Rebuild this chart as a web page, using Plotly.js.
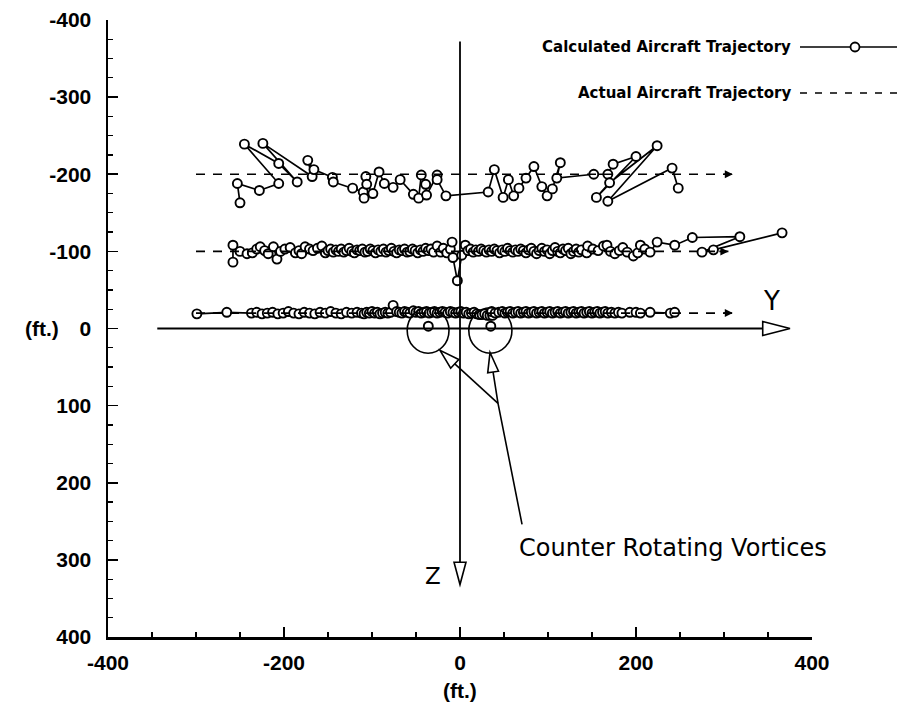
<!DOCTYPE html>
<html>
<head>
<meta charset="utf-8">
<script src="https://cdn.plot.ly/plotly-3.0.1.min.js"></script>
<style>html,body{margin:0;padding:0;background:#fff}#chart{width:904px;height:706px}</style>
</head>
<body>
<div id="chart"></div>
<script>
// ---- Data: [Y (ft), Z (ft)] ----
// Upper calculated trajectory (~ -200 ft)
const calcHigh = [[-250,-163],[-253,-188],[-228,-179],[-206,-188],[-245,-239],[-206,-214],[-185,-190],[-224,-240],[-168,-197],[-173,-218],[-166,-206],[-145,-196],[-144,-190],[-122,-182],[-110,-177],[-109,-169],[-107,-197],[-106,-187],[-99,-175],[-92,-203],[-86,-188],[-76,-183],[-68,-193],[-53,-174],[-47,-169],[-44,-199],[-39,-187],[-38,-173],[-26,-199],[-26,-193],[-16,-172],[32,-177],[39,-206],[49,-170],[55,-193],[61,-172],[67,-182],[75,-195],[84,-210],[93,-184],[99,-172],[105,-181],[114,-215],[110,-195],[152,-200],[168,-200],[174,-213],[200,-223],[155,-170],[170,-189],[224,-237],[168,-165],[241,-208],[248,-182]];

// Middle calculated trajectory (~ -100 ft)
const calcMid = [[-258,-86],[-258,-108],[-250,-100],[-242,-97],[-236,-98],[-231,-103],[-227,-106],[-222,-101],[-218,-97],[-212,-106],[-208,-90],[-204,-100],[-199,-103],[-193,-105],[-187,-98],[-183,-101],[-180,-97],[-176,-106],[-171,-103],[-167,-101],[-162,-104],[-157,-107],[-153,-98],
[-150,-101],[-147,-103],[-144,-99],[-141,-102],[-138,-100],[-135,-103],[-132,-99],[-129,-101],[-126,-104],[-123,-100],[-120,-98],[-117,-102],[-114,-101],[-111,-103],[-108,-99],[-105,-100],[-102,-103],[-99,-101],[-96,-98],[-93,-102],[-90,-100],[-87,-103],[-84,-99],[-81,-101],[-78,-104],[-75,-100],[-72,-98],[-69,-102],[-66,-101],[-63,-103],[-60,-99],[-57,-100],[-54,-103],[-51,-101],[-48,-98],[-45,-102],[-42,-100],[-39,-104],[-36,-101],[-33,-103],[-30,-99],[-26,-107],[-22,-99],[-19,-104],[-15,-98],[-11,-103],[-9,-112],[-8,-92],[-3,-62],[2,-95],[6,-108],
[9,-101],[12,-103],[15,-99],[18,-102],[21,-100],[24,-103],[27,-101],[30,-99],[33,-102],[36,-100],[39,-103],[42,-101],[45,-98],[48,-102],[51,-100],[54,-104],[57,-101],[60,-99],[63,-102],[66,-100],[69,-103],[72,-101],[75,-98],[78,-102],[81,-104],[84,-100],[87,-97],[90,-101],[93,-104],[96,-100],[99,-102],[102,-97],[105,-101],[108,-105],[111,-100],[114,-98],[117,-103],[120,-101],[123,-104],[126,-97],[129,-100],[132,-103],[135,-99],[138,-102],
[144,-98],[145,-107],[151,-103],[157,-101],[163,-107],[167,-108],[171,-100],[176,-97],[181,-101],[185,-105],[190,-99],[197,-94],[202,-98],[205,-108],[210,-103],[216,-99],[224,-112],[244,-108],[264,-118],[318,-119],[275,-99],[288,-102],[366,-124]];

// Lower calculated trajectory (~ -20 ft)
const calcLow = [[-299,-19],[-265,-21],[-237,-20],[-231,-21],[-225,-19],[-219,-20],[-213,-21],[-207,-19],[-201,-20],[-195,-22],[-189,-20],[-183,-19],[-177,-21],[-171,-20],[-165,-19],[-159,-21],[-153,-20],[-147,-22],[-141,-20],[-135,-19],[-129,-21],[-123,-20],[-117,-21],[-112,-20],[-109,-19],[-106,-21],[-103,-20],[-100,-22],[-97,-20],[-94,-21],[-91,-19],[-88,-20],[-85,-21],[-82,-20],[-79,-21],[-76,-30],[-72,-22],[-69,-21],[-66,-20],[-63,-22],[-60,-21],[-57,-20],[-53,-23],[-50,-21],[-47,-22],[-44,-20],[-41,-21],[-38,-22],[-35,-20],[-32,-21],[-29,-22],[-26,-20],[-23,-21],[-20,-22],[-17,-21],[-14,-20],[-11,-22],[-8,-21],[-5,-20],[-2,-21],[1,-22],[4,-20],[7,-21],[10,-19],[13,-20],[16,-21],[19,-19],[22,-18],[25,-18],[28,-19],[31,-17],[34,-17],[37,-17],[36,-22],[40,-20],[44,-21],[48,-22],[51,-20],[54,-21],[57,-22],[60,-20],[63,-21],[66,-22],[69,-20],[72,-21],[75,-22],[78,-20],[81,-21],[84,-22],[87,-20],[90,-21],[93,-22],[96,-20],[99,-21],[102,-22],[105,-20],[108,-21],[111,-22],[114,-20],[117,-21],[120,-22],[123,-20],[126,-21],[129,-22],[132,-20],[135,-21],[138,-22],[141,-20],[144,-21],[147,-22],[150,-20],[153,-21],[156,-22],[159,-20],[162,-21],[165,-22],[168,-20],[172,-21],[176,-20],[180,-21],[184,-20],[193,-21],[200,-21],[205,-20],[216,-21],[239,-20],[244,-21]];

// Actual (straight) trajectories
const actualStartY = -300;
const actualEndY = [310, 305, 310];
const actualZ = [-200, -100, -20];

// Vortex cores
const vortexY = [-36, 35];
const vortexZ = [-3, -3];

// Axis ticks
const xTicks = [-400, -200, 0, 200, 400];
const yTicks = [-400, -300, -200, -100, 0, 100, 200, 300, 400];

// ---- Helpers for paper coords (layout positions) ----
const L = 108, R = 812, T = 20, B = 637;
const PX = p => (p - L) / (R - L);
const PY = p => (B - p) / (B - T);

const FONT = 'Liberation Sans, Arial, Helvetica, sans-serif';
const WIDE = 'DejaVu Sans, Liberation Sans, sans-serif';
const markerStyle = {symbol: 'circle', size: 9, color: '#ffffff', line: {color: '#000', width: 1.9}};
const lineStyle = {color: '#000', width: 1.7};

const traces = [];
[calcHigh, calcMid, calcLow].forEach(pts => {
  traces.push({x: pts.map(p => p[0]), y: pts.map(p => p[1]), type: 'scatter', mode: 'lines+markers',
    line: lineStyle, marker: markerStyle, showlegend: false, hoverinfo: 'skip'});
});
actualZ.forEach((z, i) => {
  traces.push({x: [actualStartY, actualEndY[i]], y: [z, z], type: 'scatter', mode: 'lines',
    line: {color: '#000', width: 1.6, dash: '9px,8px'}, showlegend: false, hoverinfo: 'skip'});
});
traces.push({x: vortexY, y: vortexZ, type: 'scatter', mode: 'markers', marker: markerStyle, showlegend: false, hoverinfo: 'skip'});

const annotations = [];
actualZ.forEach((z, i) => {
  annotations.push({x: actualEndY[i], y: z, ax: actualEndY[i] - 12, ay: z, xref: 'x', yref: 'y', axref: 'x', ayref: 'y',
    text: '', showarrow: true, arrowhead: 2, arrowsize: 1, arrowwidth: 1.6, arrowcolor: '#000'});
});
const txt = (x, y, xref, yref, text, family, size, xanchor) => ({
  x: x, y: y, xref: xref, yref: yref, text: text, showarrow: false,
  xanchor: xanchor || 'center', yanchor: 'middle', font: {family: family, size: size, color: '#000'}
});
annotations.push(txt(354, -36, 'x', 'y', 'Y', WIDE, 26));
annotations.push(txt(-31, 321, 'x', 'y', 'Z', WIDE, 23));
annotations.push(txt(65, 284, 'x', 'y', 'Counter Rotating Vortices', WIDE, 24, 'left'));
annotations.push(txt(PX(42), PY(328), 'paper', 'paper', '<b>(ft.)</b>', FONT, 21));
annotations.push(txt(PX(460), PY(690), 'paper', 'paper', '<b>(ft.)</b>', FONT, 21));
annotations.push(txt(PX(793), PY(47), 'paper', 'paper', '<b>Calculated Aircraft Trajectory</b>', WIDE, 15, 'right'));
annotations.push(txt(PX(793), PY(93), 'paper', 'paper', '<b>Actual Aircraft Trajectory</b>', WIDE, 15, 'right'));

const ln = {color: '#000', width: 1.6};
const shapes = [
  {type: 'line', xref: 'x', yref: 'y', x0: -344, y0: 0, x1: 344, y1: 0, line: {color: '#000', width: 2}},
  {type: 'path', xref: 'x', yref: 'y', path: 'M344,-9 L375,0 L344,9 Z', fillcolor: '#fff', line: ln},
  {type: 'line', xref: 'x', yref: 'y', x0: 0, y0: -372, x1: 0, y1: 303, line: {color: '#000', width: 1.8}},
  {type: 'path', xref: 'x', yref: 'y', path: 'M-6.8,303 L0,332 L6.8,303 Z', fillcolor: '#fff', line: ln},
  {type: 'circle', xref: 'x', yref: 'y', x0: -60, x1: -12.5, y0: -27, y1: 32, line: ln},
  {type: 'circle', xref: 'x', yref: 'y', x0: 10, x1: 59, y0: -27, y1: 32, line: ln},
  {type: 'path', xref: 'x', yref: 'y', path: 'M70.5,254 L43.2,97 L37.6,56.5', line: ln},
  {type: 'path', xref: 'x', yref: 'y', path: 'M43.2,97 L-5.9,45.8', line: ln},
  {type: 'path', xref: 'x', yref: 'y', path: 'M43.8,55.4 L34.1,31 L31.5,57.5 Z', fillcolor: '#fff', line: ln},
  {type: 'path', xref: 'x', yref: 'y', path: 'M-1.4,40.1 L-22.7,28.4 L-10.6,51.5 Z', fillcolor: '#fff', line: ln},
  {type: 'line', xref: 'paper', yref: 'paper', x0: PX(800), x1: PX(897), y0: PY(47), y1: PY(47), line: ln},
  {type: 'circle', xref: 'paper', yref: 'paper', x0: PX(850.5), x1: PX(859.5), y0: PY(42.5), y1: PY(51.5), fillcolor: '#fff', line: {color: '#000', width: 1.8}},
  {type: 'line', xref: 'paper', yref: 'paper', x0: PX(800), x1: PX(900), y0: PY(93), y1: PY(93), line: {color: '#000', width: 1.6, dash: '7px,8px'}}
];

const axisCommon = {
  showgrid: false, zeroline: false, showline: true, linecolor: '#000', linewidth: 2.5,
  ticks: 'inside', ticklen: 10, tickwidth: 1.6, tickcolor: '#000',
  tickfont: {family: FONT, size: 21, color: '#000', weight: 'bold'}, fixedrange: true
};

const layout = {
  width: 904, height: 706,
  margin: {l: L, r: 904 - R, t: T, b: 706 - B, pad: 0},
  paper_bgcolor: '#fff', plot_bgcolor: '#fff',
  showlegend: false,
  xaxis: Object.assign({}, axisCommon, {range: [-400, 400], tickmode: 'array', tickvals: xTicks, ticktext: xTicks.map(String),
    ticklabelstandoff: 5, minor: {dtick: 50, ticklen: 5, ticks: 'inside', tickcolor: '#000', tickwidth: 1.2}}),
  yaxis: Object.assign({}, axisCommon, {range: [400, -400], tickmode: 'array', tickvals: yTicks, ticktext: yTicks.map(String),
    ticklabelstandoff: 10, minor: {dtick: 25, ticklen: 5, ticks: 'inside', tickcolor: '#000', tickwidth: 1.2}}),
  annotations: annotations,
  shapes: shapes
};

Plotly.newPlot('chart', traces, layout, {staticPlot: true, displayModeBar: false});
</script>
</body>
</html>
